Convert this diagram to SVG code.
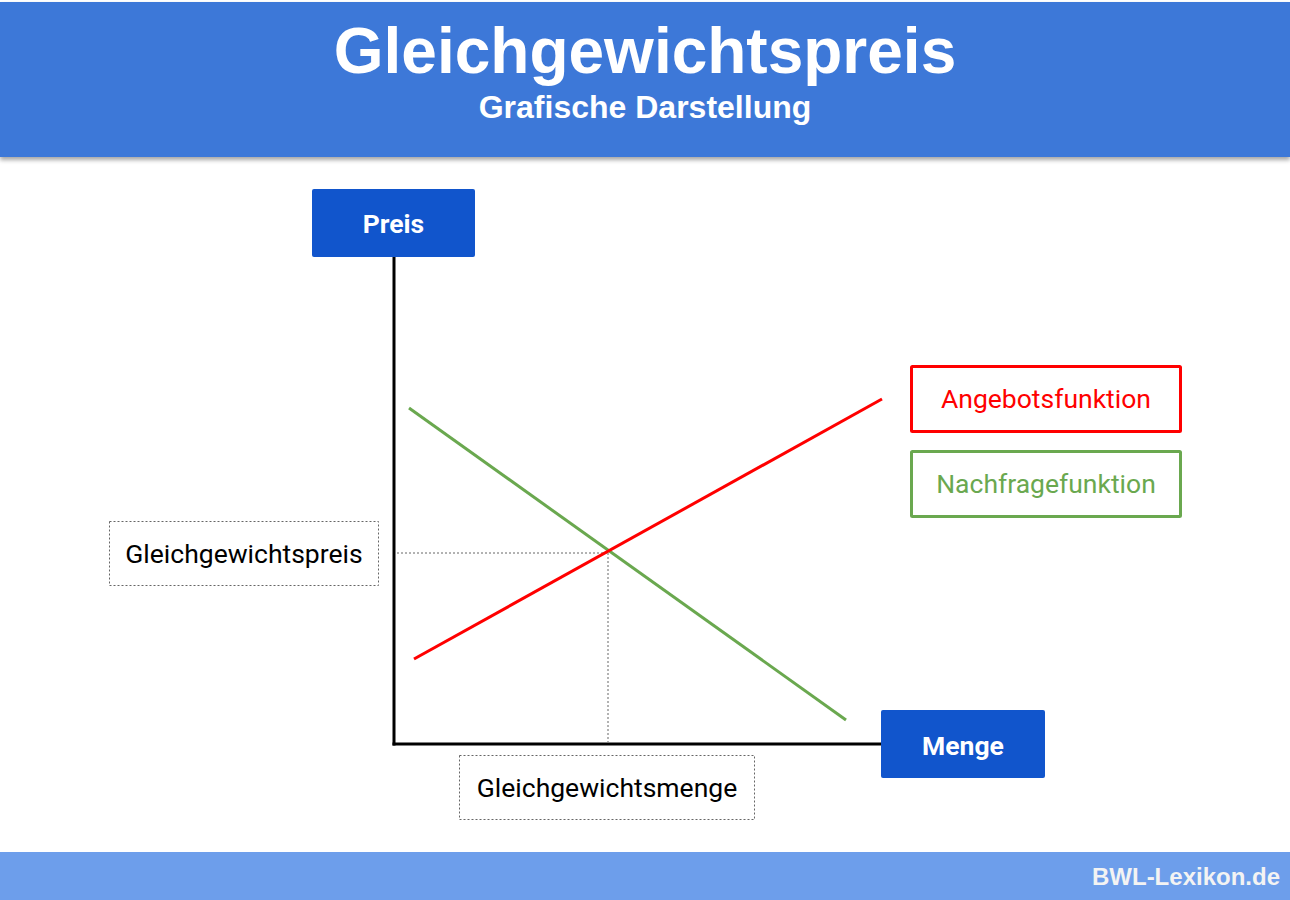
<svg xmlns="http://www.w3.org/2000/svg" width="1290" height="900" viewBox="0 0 1290 900">
<defs>
<style>
.hdr{font-family:"Liberation Sans",Arial,sans-serif;font-weight:bold;fill:#ffffff;text-anchor:middle}
.ax{fill:#1155cc}
.axt{font-family:Roboto,"Liberation Sans",sans-serif;font-weight:bold;font-size:26.5px;fill:#ffffff;text-anchor:middle}
.lbl{font-family:Roboto,"Liberation Sans",sans-serif;font-size:26.5px;text-anchor:middle}
.dot{fill:#ffffff;stroke:#666666;stroke-width:1;stroke-dasharray:2,2}
.guide{stroke:#666666;stroke-width:1;stroke-dasharray:2,2;fill:none}
</style>
<filter id="sh" x="-5%" y="-20%" width="110%" height="140%">
<feDropShadow dx="0" dy="3" stdDeviation="2" flood-color="#000000" flood-opacity="0.35"/>
</filter>
</defs>
<rect width="1290" height="900" fill="#ffffff"/>
<g id="header">
<rect x="0" y="2" width="1290" height="155" fill="#3c78d8" filter="url(#sh)"/>
<text class="hdr" x="645" y="73" font-size="64">Gleichgewichtspreis</text>
<text class="hdr" x="645" y="118" font-size="32">Grafische Darstellung</text>
</g>
<g id="connectors">
<line x1="394" y1="256" x2="394" y2="745.5" stroke="#000000" stroke-width="3"/>
<line x1="392.5" y1="744" x2="882" y2="744" stroke="#000000" stroke-width="3"/>
<line class="guide" x1="397" y1="553" x2="608" y2="553"/>
<line class="guide" x1="608" y1="553" x2="608" y2="742"/>
<line x1="409" y1="408" x2="846" y2="720" stroke="#6aa84f" stroke-width="3"/>
<line x1="414" y1="659" x2="882" y2="399" stroke="#ff0000" stroke-width="3"/>
</g>
<g id="preis">
<rect class="ax" x="312" y="189" width="163" height="68" rx="2"/>
<text class="axt" x="393.5" y="233">Preis</text>
</g>
<g id="menge">
<rect class="ax" x="881" y="710" width="164" height="68" rx="2"/>
<text class="axt" x="963" y="755">Menge</text>
</g>
<g id="gleichgewichtspreis">
<rect class="dot" x="109.5" y="521.5" width="269" height="64"/>
<text class="lbl" x="244" y="563" fill="#000000">Gleichgewichtspreis</text>
</g>
<g id="gleichgewichtsmenge">
<rect class="dot" x="459.5" y="755.5" width="295" height="64"/>
<text class="lbl" x="607" y="797" fill="#000000">Gleichgewichtsmenge</text>
</g>
<g id="angebot">
<rect x="911.5" y="366.5" width="269" height="65" fill="#ffffff" stroke="#ff0000" stroke-width="3" rx="1"/>
<text class="lbl" x="1046" y="408" fill="#ff0000">Angebotsfunktion</text>
</g>
<g id="nachfrage">
<rect x="911.5" y="451.5" width="269" height="65" fill="#ffffff" stroke="#6aa84f" stroke-width="3" rx="1"/>
<text class="lbl" x="1046" y="493" fill="#6aa84f">Nachfragefunktion</text>
</g>
<g id="footer">
<rect x="0" y="852" width="1290" height="48" fill="#6d9eeb"/>
<text x="1280" y="885" font-family="'Liberation Sans',Arial,sans-serif" font-weight="bold" font-size="24" fill="#f3f3f3" text-anchor="end">BWL-Lexikon.de</text>
</g>
</svg>
